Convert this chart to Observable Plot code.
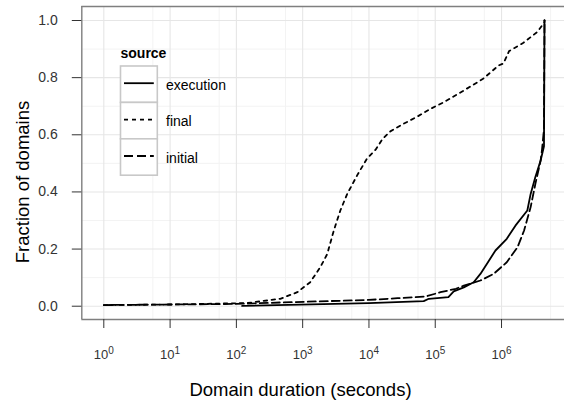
<!DOCTYPE html>
<html><head><meta charset="utf-8">
<script src="https://cdn.jsdelivr.net/npm/d3@7"></script>
<script src="https://cdn.jsdelivr.net/npm/@observablehq/plot@0.6"></script>
<style>
body{margin:0;background:#fff;}
svg{font-family:"Liberation Sans",Arial,Helvetica,sans-serif;}
</style>
</head><body><div id="chart"></div>
<script>
// ---- data ----
const sources = ["execution", "final", "initial"];

const executionSeconds = [122, 10000, 67000, 80000, 158000, 190000, 270000, 380000, 480000, 600000, 810000, 1200000, 1620000, 2450000, 2750000, 3240000, 3890000, 4370000, 4450000];
const executionFraction = [0.001, 0.0105, 0.018, 0.026, 0.032, 0.052, 0.066, 0.084, 0.113, 0.148, 0.195, 0.236, 0.282, 0.335, 0.393, 0.452, 0.51, 0.56, 1.0];

const finalSeconds = [1, 10, 145, 460, 830, 1300, 1850, 2350, 2950, 3700, 4700, 6600, 9300, 12600, 16000, 21000, 33000, 54000, 85000, 135000, 270000, 520000, 910000, 1070000, 1300000, 2140000, 3470000, 4440000, 4450000];
const finalFraction = [0.004, 0.006, 0.011, 0.026, 0.049, 0.084, 0.137, 0.183, 0.265, 0.335, 0.393, 0.457, 0.516, 0.548, 0.585, 0.612, 0.638, 0.664, 0.691, 0.714, 0.755, 0.795, 0.843, 0.85, 0.893, 0.922, 0.960, 0.994, 1.0];

const initialSeconds = [1, 10, 100, 460, 10000, 27000, 72000, 120000, 205000, 270000, 480000, 760000, 1200000, 1740000, 2190000, 2750000, 3240000, 3890000, 4070000, 4370000, 4450000];
const initialFraction = [0.004, 0.006, 0.008, 0.013, 0.022, 0.028, 0.034, 0.049, 0.061, 0.072, 0.09, 0.113, 0.154, 0.206, 0.265, 0.347, 0.428, 0.51, 0.545, 0.62, 1.0];

const xTicks = [1, 10, 100, 1e3, 1e4, 1e5, 1e6];
const xTickExponents = ["0", "1", "2", "3", "4", "5", "6"];
const xMinor = [5.5, 55, 550, 5500, 55000, 550000, 5500000];
const yTicks = [0, 0.2, 0.4, 0.6, 0.8, 1.0];
const yMinor = [0.1, 0.3, 0.5, 0.7, 0.9];

const xTitle = "Domain duration (seconds)";
const yTitle = "Fraction of domains";
const legendTitle = "source";

// ---- build table ----
const seriesSeconds = {execution: executionSeconds, final: finalSeconds, initial: initialSeconds};
const seriesFraction = {execution: executionFraction, final: finalFraction, initial: initialFraction};
const rows = sources.flatMap(s => seriesSeconds[s].map((t, i) => ({source: s, seconds: t, fraction: seriesFraction[s][i]})));

const dashes = {execution: null, final: "3.5,4.5", initial: "8,4"};
const legendDashes = {execution: null, final: "4,4", initial: "9,4"};

const W = 564, H = 403;
const xDomain = [10 ** -0.332, 10 ** 6.95];
const yDomain = [-0.0465, 1.049];
const borderColor = "#7f7f7f";

const plot = Plot.plot({
  width: W, height: H,
  marginLeft: 81.3, marginRight: 0, marginTop: 6, marginBottom: 84,
  style: {background: "white", fontFamily: '"Liberation Sans", Arial, sans-serif', overflow: "visible"},
  x: {type: "log", domain: xDomain},
  y: {domain: yDomain},
  marks: [
    Plot.ruleX(xMinor, {stroke: "#f3f3f3", strokeWidth: 1}),
    Plot.ruleY(yMinor, {stroke: "#f3f3f3", strokeWidth: 1}),
    Plot.ruleX(xTicks, {stroke: "#e6e6e6", strokeWidth: 1.1}),
    Plot.ruleY(yTicks, {stroke: "#e6e6e6", strokeWidth: 1.1}),
    ...sources.map(s => Plot.line(rows.filter(d => d.source === s), {
      x: "seconds", y: "fraction", stroke: "black", strokeWidth: 1.8,
      strokeDasharray: dashes[s], strokeLinejoin: "round"
    })),
    Plot.ruleX([xDomain[0]], {stroke: borderColor, strokeWidth: 1.4}),
    Plot.ruleY([yDomain[0], yDomain[1]], {stroke: borderColor, strokeWidth: 1.4}),
    Plot.axisY(yTicks, {tickSize: 9.5, tickPadding: 14.5, fontSize: 14, tickFormat: d3.format(".1f"), label: null, color: "#333"}),
    Plot.axisX(xTicks, {tickSize: 9, tickPadding: 21, fontSize: 13, tickFormat: d => "10^" + xTickExponents[xTicks.indexOf(d)], label: null, color: "#333"})
  ]
});

const svg = d3.select(plot);

// superscript tick labels
svg.selectAll('g[aria-label="x-axis tick label"] text').each(function() {
  const t = d3.select(this);
  const parts = t.text().split("^");
  t.text(null);
  t.append("tspan").text(parts[0]);
  t.append("tspan").attr("dy", "-0.5em").attr("font-size", "10px").text(parts[1]);
});

// axis titles
svg.append("text").attr("x", 300.5).attr("y", 396).attr("text-anchor", "middle")
  .attr("font-size", 18.5).attr("fill", "black").text(xTitle);
svg.append("text").attr("transform", "translate(29,182) rotate(-90)").attr("text-anchor", "middle")
  .attr("font-size", 18.5).attr("fill", "black").text(yTitle);

// legend
const lg = svg.append("g").attr("aria-label", "legend").attr("text-anchor", "start");
lg.append("text").attr("x", 120.5).attr("y", 58).attr("font-size", 14).attr("font-weight", "bold")
  .attr("fill", "black").text(legendTitle);
const keyTop = 66, keyH = 36.4, keyX = 120.5, keyW = 36.8;
sources.forEach((s, i) => {
  const y0 = keyTop + i * keyH;
  lg.append("rect").attr("x", keyX).attr("y", y0).attr("width", keyW).attr("height", keyH)
    .attr("fill", "white").attr("stroke", "#c8c8c8").attr("stroke-width", 1.6);
  lg.append("line").attr("x1", keyX + 3.5).attr("x2", keyX + keyW - 3.5)
    .attr("y1", y0 + keyH / 2 - 1).attr("y2", y0 + keyH / 2 - 1)
    .attr("stroke", "black").attr("stroke-width", 1.8)
    .attr("stroke-dasharray", legendDashes[s]);
  lg.append("text").attr("x", 166).attr("y", y0 + keyH / 2 + 5.5).attr("font-size", 14)
    .attr("fill", "black").text(s);
});

document.getElementById("chart").appendChild(plot);
</script>
</body></html>
